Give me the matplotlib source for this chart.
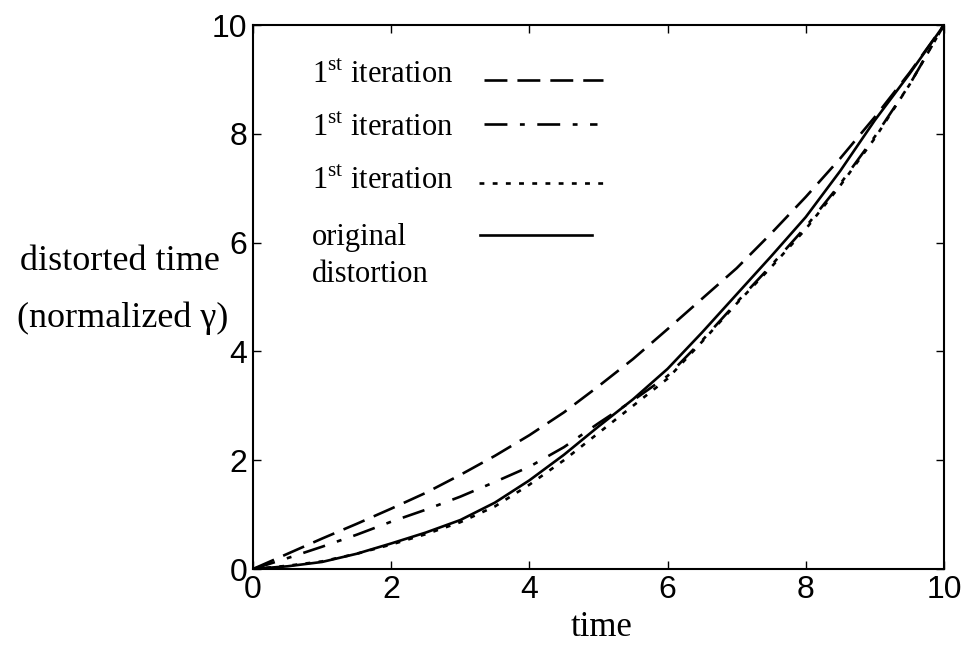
import numpy as np
import matplotlib
matplotlib.use("Agg")
import matplotlib.pyplot as plt

plt.rcParams["mathtext.fontset"] = "custom"
plt.rcParams["mathtext.rm"] = "Liberation Serif"
plt.rcParams["lines.scale_dashes"] = False

# time axis samples and the four distortion curves
t = [0, 0.5, 1, 1.5, 2, 2.5, 3, 3.5, 4, 4.5, 5, 5.5, 6, 6.5, 7, 7.5, 8, 8.5, 9, 9.5, 10]
iter_dashed = [0, 0.28, 0.56, 0.83, 1.11, 1.40, 1.73, 2.08, 2.46, 2.88, 3.36, 3.86,
               4.41, 4.97, 5.53, 6.17, 6.84, 7.55, 8.31, 9.12, 10.0]
iter_dashdot = [0, 0.20, 0.41, 0.63, 0.87, 1.09, 1.33, 1.60, 1.88, 2.24, 2.68, 3.10,
                3.55, 4.20, 4.90, 5.58, 6.29, 7.08, 7.95, 8.90, 10.0]
original = [0, 0.05, 0.13, 0.28, 0.47, 0.67, 0.90, 1.22, 1.63, 2.10, 2.62, 3.12,
            3.68, 4.35, 5.05, 5.75, 6.47, 7.32, 8.25, 9.10, 10.0]
iter_dotted = [0, 0.06, 0.14, 0.28, 0.45, 0.64, 0.86, 1.15, 1.55, 2.00, 2.50, 3.00,
               3.50, 4.18, 4.88, 5.55, 6.25, 7.05, 7.92, 8.90, 10.0]

ticks = [0, 2, 4, 6, 8, 10]
legend_labels = [r"1$^{\rm st}$ iteration", r"1$^{\rm st}$ iteration",
                 r"1$^{\rm st}$ iteration", "original", "distortion"]

serif = "Liberation Serif"
sans = "Liberation Sans"
lw = 1.9
styles = [(0, (16.5, 7.2)), (0, (16.5, 9, 3.5, 9)), (0, (3.5, 6)), "-"]

fig = plt.figure(figsize=(9.65, 6.48), dpi=100)
ax = fig.add_axes([0.2622, 0.1219, 0.9782 - 0.2622, 0.9614 - 0.1219])

ax.plot(t, iter_dashed, color="black", lw=lw, linestyle=styles[0])
ax.plot(t, iter_dashdot, color="black", lw=lw, linestyle=styles[1])
ax.plot(t, iter_dotted, color="black", lw=lw, linestyle=styles[2])
ax.plot(t, original, color="black", lw=lw, linestyle=styles[3])

ax.set_xlim(0, 10)
ax.set_ylim(0, 10)
ax.set_xticks(ticks)
ax.set_yticks(ticks)
ax.tick_params(direction="in", top=True, right=True, length=6, width=1,
               labelsize=23, pad=4)
for lab in ax.get_xticklabels() + ax.get_yticklabels():
    lab.set_fontfamily(sans)
for s in ax.spines.values():
    s.set_linewidth(1.5)

# hand-placed key inside the axes
text_y = [8.93, 7.96, 6.98, 5.96, 5.28]
line_y = [8.99, 8.18, 7.09, 6.14]
line_x = [(3.34, 5.07), (3.34, 4.98), (3.27, 5.17), (3.29, 4.91)]
for i in range(len(legend_labels)):
    ax.text(0.85, text_y[i], legend_labels[i], fontsize=22, family=serif,
            va="baseline", ha="left")
for i in range(4):
    ax.plot(line_x[i], [line_y[i], line_y[i]], color="black", lw=lw,
            linestyle=styles[i])

fig.text(602 / 965, 1 - 628 / 648, "time", fontsize=25, family=serif,
         ha="center", va="center")
fig.text(220 / 965, 1 - 270 / 648, "distorted time", fontsize=26, family=serif,
         ha="right", va="baseline")
fig.text(228 / 965, 1 - 327 / 648, "(normalized \u03b3)", fontsize=26, family=serif,
         ha="right", va="baseline")

fig.savefig("out.png", dpi=100)
